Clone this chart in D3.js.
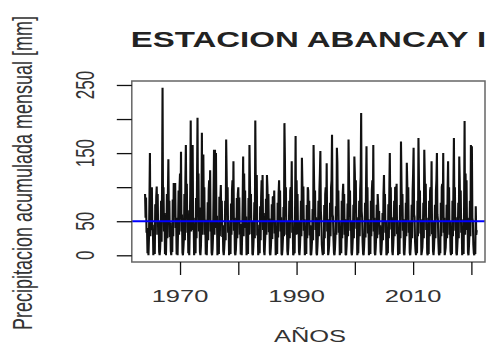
<!DOCTYPE html>
<html>

<head>
    <meta charset="utf-8">
    <style>
        body {
            margin: 0;
            background: #fff;
        }

        svg {
            display: block;
            font-family: 'Liberation Sans', Arial, sans-serif;
        }

        .tick line {
            stroke: #111;
            stroke-width: 1.3;
        }

        .domain {
            display: none;
        }
    </style>
</head>

<body>
    <svg width="486" height="347"></svg>
</body>

<script src="https://d3js.org/d3.v7.min.js"></script>

<script>
    // monthly precipitation [mm], one row per year, Jan..Dec
    let startYear = 1964;
    let monthly = [
        [90, 55, 85, 33, 40, 3, 10, 0, 25, 80, 150, 28],     // 1964
        [95, 65, 100, 37, 45, 0, 6, 12, 2, 75, 30, 85],      // 1965
        [101, 50, 90, 30, 50, 5, 0, 9, 30, 80, 20, 95],      // 1966
        [246, 60, 100, 35, 62, 2, 8, 0, 34, 90, 25, 90],     // 1967
        [141, 55, 80, 27, 48, 6, 0, 18, 5, 82, 28, 106],     // 1968
        [100, 63, 106, 40, 55, 1, 9, 0, 40, 95, 30, 100],    // 1969
        [120, 53, 152, 35, 60, 4, 0, 11, 26, 90, 22, 110],   // 1970
        [162, 65, 105, 33, 66, 3, 10, 0, 38, 90, 198, 35],   // 1971
        [140, 55, 162, 37, 55, 0, 9, 20, 3, 84, 25, 110],    // 1972
        [202, 70, 120, 35, 70, 5, 0, 13, 45, 180, 30, 100],  // 1973
        [148, 60, 100, 30, 52, 1, 8, 0, 31, 78, 22, 95],     // 1974
        [110, 57, 125, 35, 50, 4, 0, 9, 29, 85, 155, 30],    // 1975
        [155, 65, 150, 40, 58, 0, 7, 17, 2, 86, 28, 80],     // 1976
        [103, 50, 80, 27, 44, 6, 0, 10, 24, 80, 22, 170],    // 1977
        [120, 60, 100, 33, 50, 0, 5, 14, 2, 76, 30, 95],     // 1978
        [110, 53, 138, 36, 55, 3, 0, 8, 27, 84, 25, 90],     // 1979
        [100, 55, 85, 30, 46, 1, 6, 0, 33, 80, 145, 28],     // 1980
        [120, 63, 95, 40, 57, 0, 7, 11, 2, 84, 30, 162],     // 1981
        [105, 55, 90, 31, 50, 2, 0, 13, 32, 78, 25, 198],    // 1982
        [100, 50, 118, 29, 45, 0, 5, 10, 3, 72, 22, 85],     // 1983
        [110, 65, 118, 37, 62, 6, 0, 18, 35, 83, 30, 118],   // 1984
        [100, 53, 90, 34, 54, 3, 0, 11, 28, 75, 24, 86],     // 1985
        [86, 55, 95, 32, 50, 0, 5, 12, 2, 77, 26, 90],       // 1986
        [110, 60, 95, 35, 56, 2, 0, 9, 26, 71, 28, 194],     // 1987
        [140, 57, 100, 30, 50, 6, 0, 12, 32, 80, 25, 95],    // 1988
        [100, 55, 138, 33, 50, 0, 2, 10, 3, 76, 175, 30],    // 1989
        [110, 60, 90, 31, 50, 5, 0, 13, 33, 80, 28, 143],    // 1990
        [105, 53, 101, 36, 53, 0, 5, 11, 2, 74, 25, 100],    // 1991
        [95, 50, 80, 29, 44, 1, 0, 9, 25, 68, 22, 162],      // 1992
        [110, 60, 95, 37, 56, 3, 0, 13, 32, 80, 28, 95],     // 1993
        [120, 153, 65, 50, 16, 6, 0, 11, 2, 74, 25, 90],     // 1994
        [100, 55, 135, 35, 53, 0, 5, 14, 33, 77, 28, 100],   // 1995
        [110, 177, 60, 56, 24, 3, 0, 9, 26, 72, 30, 158],    // 1996
        [137, 60, 95, 33, 50, 0, 6, 12, 3, 80, 25, 90],      // 1997
        [105, 55, 90, 30, 53, 1, 0, 13, 33, 76, 28, 170],    // 1998
        [110, 57, 95, 36, 50, 4, 0, 11, 29, 74, 25, 145],    // 1999
        [120, 63, 110, 39, 56, 0, 6, 3, 32, 80, 28, 95],     // 2000
        [115, 209, 65, 55, 19, 2, 0, 12, 30, 77, 26, 100],   // 2001
        [160, 60, 100, 32, 53, 0, 5, 13, 2, 80, 28, 95],     // 2002
        [110, 55, 162, 35, 55, 3, 0, 11, 29, 74, 25, 90],    // 2003
        [74, 45, 65, 30, 44, 5, 0, 9, 26, 62, 22, 90],       // 2004
        [118, 57, 90, 33, 50, 0, 2, 11, 3, 75, 25, 95],      // 2005
        [150, 63, 100, 38, 56, 6, 0, 14, 32, 80, 28, 100],   // 2006
        [100, 55, 105, 31, 50, 0, 5, 11, 2, 74, 25, 167],    // 2007
        [110, 60, 90, 36, 53, 3, 0, 13, 32, 77, 28, 136],    // 2008
        [105, 53, 100, 33, 50, 4, 0, 11, 29, 74, 25, 95],    // 2009
        [120, 158, 60, 56, 20, 6, 0, 14, 3, 80, 28, 172],    // 2010
        [110, 55, 95, 32, 53, 0, 5, 11, 29, 77, 25, 155],    // 2011
        [115, 63, 105, 37, 55, 3, 0, 13, 2, 80, 28, 95],     // 2012
        [100, 55, 138, 31, 50, 6, 0, 11, 29, 74, 25, 95],    // 2013
        [110, 150, 60, 53, 20, 2, 0, 14, 3, 77, 28, 100],    // 2014
        [105, 55, 150, 33, 55, 0, 5, 11, 29, 74, 25, 95],    // 2015
        [138, 60, 100, 30, 50, 6, 0, 12, 2, 80, 28, 100],    // 2016
        [172, 63, 100, 36, 56, 3, 0, 13, 29, 77, 25, 145],   // 2017
        [110, 55, 95, 33, 53, 0, 5, 11, 2, 74, 197, 30],     // 2018
        [120, 60, 110, 37, 55, 4, 0, 14, 32, 80, 28, 162],   // 2019
        [100, 160, 55, 50, 16, 3, 0, 11, 2, 72, 30, 37]      // 2020
    ];

    let meanLine = 50;
    let yTicks = [0, 50, 100, 150, 200, 250];
    let yTickLabels = ["0", "50", "", "150", "", "250"];
    let xTicks = [1970, 1980, 1990, 2000, 2010, 2020];
    let xTickLabels = ["1970", "", "1990", "", "2010", ""];

    let title = "ESTACION ABANCAY I";
    let xTitle = "AÑOS";
    let yTitle = "Precipitacion acumulada mensual [mm]";

    // flatten into a time series (decimal year)
    let data = [];
    monthly.forEach(function (row, i) {
        row.forEach(function (v, m) {
            data.push({ t: startYear + i + m / 12, value: v });
        });
    });

    // the original picture is stretched sideways, so text and lines are widened too
    let stretch = 1.5;

    let box = { left: 131.8, right: 485, top: 81, bottom: 262 };

    let svg = d3.select("svg");

    // R style 4% padding around the data range
    let tExt = d3.extent(data, d => d.t);
    let tPad = (tExt[1] - tExt[0]) * 0.04;
    let vExt = d3.extent(data, d => d.value);
    let vPad = (vExt[1] - vExt[0]) * 0.04;

    let x = d3.scaleLinear()
        .domain([tExt[0] - tPad, tExt[1] + tPad])
        .range([box.left, 490]);

    let y = d3.scaleLinear()
        .domain([vExt[0] - vPad, vExt[1] + vPad])
        .range([box.bottom, box.top]);

    // same x scale but in the un-stretched space of the series group
    let xs = x.copy().range(x.range().map(v => v / stretch));

    let line = d3.line()
        .x(d => xs(d.t))
        .y(d => y(d.value));

    // black line, stretched sideways like the rest of the picture
    svg.append("g")
        .attr("transform", `scale(${stretch},1)`)
        .append("path")
        .datum(data)
        .attr("d", line)
        .style("fill", "none")
        .style("stroke", "#111")
        .style("stroke-width", 1.4)
        .style("stroke-linejoin", "bevel");

    // mean line
    svg.append("line")
        .attr("x1", box.left)
        .attr("x2", box.right)
        .attr("y1", y(meanLine))
        .attr("y2", y(meanLine))
        .style("stroke", "#0000ff")
        .style("stroke-width", 2);

    // plot box
    svg.append("rect")
        .attr("x", box.left)
        .attr("y", box.top)
        .attr("width", box.right - box.left)
        .attr("height", box.bottom - box.top)
        .style("fill", "none")
        .style("stroke", "#666")
        .style("stroke-width", 1.5);

    // axes
    let yAxis = svg.append("g")
        .attr("transform", `translate(${box.left},0)`)
        .call(d3.axisLeft(y).tickValues(yTicks).tickSize(15).tickFormat(""));

    let xAxis = svg.append("g")
        .attr("transform", `translate(0,${box.bottom})`)
        .call(d3.axisBottom(x).tickValues(xTicks).tickSize(13).tickFormat(""));

    // tick labels (R drops the ones that would overlap)
    svg.append("g")
        .selectAll("text")
        .data(yTicks)
        .join("text")
        .attr("transform", d => `translate(94,${y(d)}) scale(${stretch},1) rotate(-90)`)
        .attr("text-anchor", "middle")
        .style("font-size", "17px")
        .style("fill", "#333")
        .text((d, i) => yTickLabels[i]);

    svg.append("g")
        .selectAll("text")
        .data(xTicks)
        .join("text")
        .attr("transform", d => `translate(${x(d)},302) scale(${stretch},1)`)
        .attr("text-anchor", "middle")
        .style("font-size", "17px")
        .style("fill", "#333")
        .text((d, i) => xTickLabels[i]);

    // titles
    svg.append("text")
        .attr("transform", `translate(308.5,47) scale(${stretch},1)`)
        .attr("text-anchor", "middle")
        .style("font-size", "22px")
        .style("font-weight", "bold")
        .style("fill", "#222")
        .text(title);

    svg.append("text")
        .attr("transform", `translate(310,342) scale(${stretch},1)`)
        .attr("text-anchor", "middle")
        .style("font-size", "17px")
        .style("fill", "#333")
        .text(xTitle);

    svg.append("text")
        .attr("transform", `translate(32,173) scale(${stretch},1) rotate(-90)`)
        .attr("text-anchor", "middle")
        .style("font-size", "18px")
        .style("fill", "#333")
        .text(yTitle);
</script>

</html>
